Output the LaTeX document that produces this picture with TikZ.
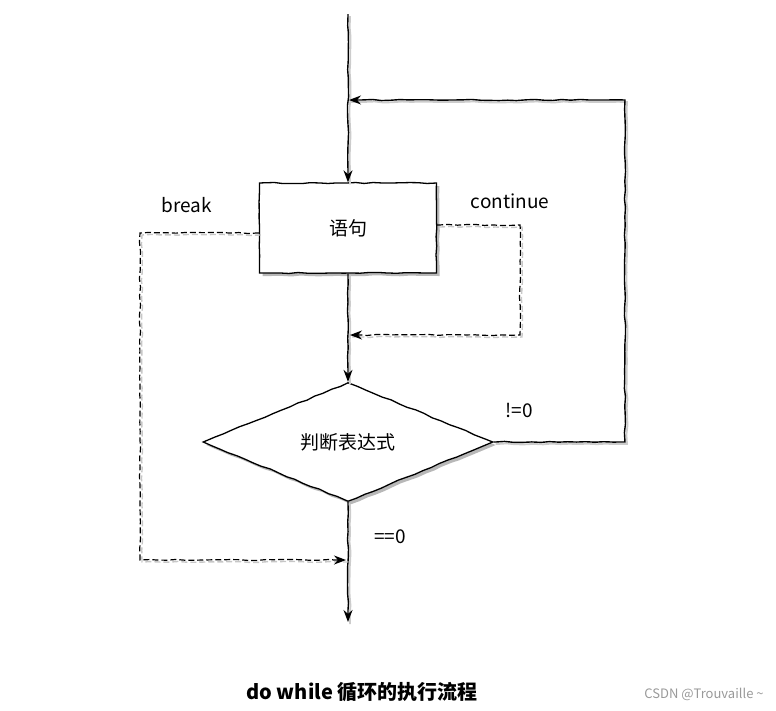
\documentclass[tikz,border=0pt]{standalone}
\usepackage{fontspec}
\setmainfont{Noto Sans CJK SC}
\usetikzlibrary{shapes.geometric,arrows.meta,decorations.pathmorphing,shadows,positioning}
\tikzstyle{sketch}=[decorate,decoration={random steps,segment length=9pt,amplitude=0.6pt,pre length=2pt,post length=12pt}]
\tikzstyle{proc}=[draw,rectangle,sketch,line width=1.3pt,fill=white,minimum width=177pt,minimum height=90pt,
  drop shadow={shadow xshift=3pt,shadow yshift=-3pt,fill=black!28,opacity=1}]
\tikzstyle{test}=[draw,diamond,sketch,line width=1.3pt,fill=white,minimum width=290pt,minimum height=119pt,inner sep=0pt,
  drop shadow={shadow xshift=3pt,shadow yshift=-3pt,fill=black!28,opacity=1}]
\tikzstyle{flow}=[draw,line width=1.4pt,sketch,-{Stealth[length=12pt,width=9pt]},
  preaction={draw=black!20,line width=1.8pt,arrows=-,transform canvas={shift={(2pt,-2pt)}}}]
\tikzstyle{jump}=[draw,line width=1.2pt,sketch,dash pattern=on 6pt off 3pt,-{Stealth[length=12pt,width=9pt]},
  preaction={draw=black!22,line width=1.4pt,dash pattern=on 6pt off 3pt,arrows=-,transform canvas={shift={(2pt,-2pt)}}}]
\tikzstyle{lbl}=[font=\fontsize{19}{22}\selectfont,inner sep=0pt]

\begin{document}
\begin{tikzpicture}[x=1pt,y=-1pt]
	\useasboundingbox (0,0) rectangle (776,710);

	\node[proc,lbl] (stmt) at (348,228) {语句};
	\node[test,lbl] (cond) at (348,442) {判断表达式};

	\coordinate (top) at (348,14);
	\coordinate (entry) at (349,100);
	\coordinate (loopR) at (625,100);
	\coordinate (contR) at (520,335);
	\coordinate (contIn) at (350,335);
	\coordinate (brkL) at (140,560);
	\coordinate (brkIn) at (346,560);
	\coordinate (bottom) at (348,622);

	% main line
	\path[flow] (top) -- (stmt.north);
	\path[flow] (stmt.south) -- (cond.north);
	\path[flow] (cond.south) -- (bottom);

	% loop back
	\path[flow] (cond.east) -- (loopR |- cond.east) -- (loopR) -- (entry);

	% continue / break
	\path[jump] ([yshift=3pt]stmt.east) -- (contR |- 0,225) -- (contR) -- (contIn);
	\path[jump] ([yshift=-5pt]stmt.west) -- (brkL |- 0,233) -- (brkL) -- (brkIn);

	\node[lbl] (brk) at (187,205) {break};
	\node[lbl] (cont) at (510,201) {continue};
	\node[lbl] (ne) at (519,410) {!=0};
	\node[lbl] (eq) at (390,537) {==0};

	\node[font=\fontsize{20}{24}\selectfont\bfseries] (title) at (362,692) {do while 循环的执行流程};
	\node[font=\fontsize{13}{16}\selectfont,text=black!40] (mark) at (704,694) {CSDN @Trouvaille \textasciitilde};
\end{tikzpicture}
\end{document}
